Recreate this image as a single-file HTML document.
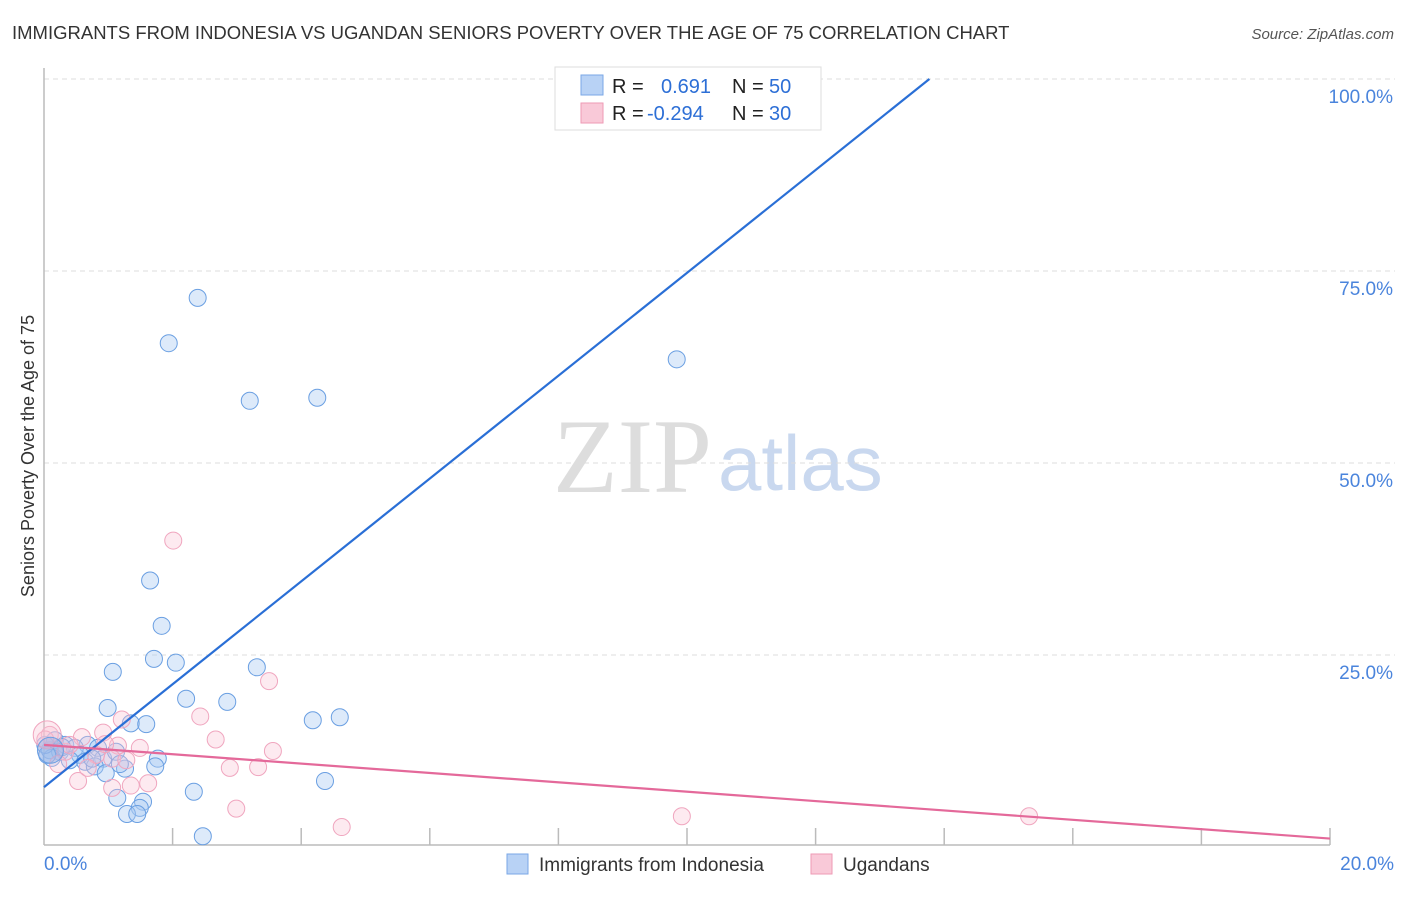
<!DOCTYPE html>
<html><head><meta charset="utf-8"><style>
body{margin:0;background:#fff;font-family:"Liberation Sans",sans-serif;}
svg text{font-family:"Liberation Sans",sans-serif;}
</style></head><body>
<svg id="chart" width="1406" height="892">
<text x="12" y="39" font-size="18.5" fill="#333">IMMIGRANTS FROM INDONESIA VS UGANDAN SENIORS POVERTY OVER THE AGE OF 75 CORRELATION CHART</text>
<text x="1394" y="39" font-size="15" fill="#555" font-style="italic" text-anchor="end">Source: ZipAtlas.com</text>
<text x="34" y="456" font-size="18" fill="#333" text-anchor="middle" transform="rotate(-90 34 456)">Seniors Poverty Over the Age of 75</text>
<text x="553" y="492" font-size="106" fill="#ddd" style="font-family:'Liberation Serif',serif">ZIP</text>
<text x="718" y="490" font-size="78" fill="#c9d8ef">atlas</text>
<g id="grid"></g><g id="pts"></g><g id="lines"></g>
<g>
<rect x="555" y="67" width="266" height="63" fill="#fff" stroke="#ddd"/>
<rect x="581" y="75" width="22" height="20" fill="#b8d2f5" stroke="#7aa7e6"/>
<rect x="581" y="103" width="22" height="20" fill="#f9c9d8" stroke="#ee9ab5"/>
<text x="612" y="93" font-size="20" fill="#222">R = </text><text x="661" y="93" font-size="20" fill="#2d6fd6">0.691</text>
<text x="732" y="93" font-size="20" fill="#222">N = </text><text x="769" y="93" font-size="20" fill="#2d6fd6">50</text>
<text x="612" y="120" font-size="20" fill="#222">R = </text><text x="647" y="120" font-size="20" fill="#2d6fd6">-0.294</text>
<text x="732" y="120" font-size="20" fill="#222">N = </text><text x="769" y="120" font-size="20" fill="#2d6fd6">30</text>
</g>
<g>
<rect x="507" y="854" width="21" height="20" fill="#b8d2f5" stroke="#7aa7e6"/>
<text x="539" y="871" font-size="19" fill="#333">Immigrants from Indonesia</text>
<rect x="811" y="854" width="21" height="20" fill="#f9c9d8" stroke="#ee9ab5"/>
<text x="843" y="871" font-size="19" fill="#333">Ugandans</text>
</g>
</svg>
<script>
const xTickLabels=["0.0%","20.0%"];
const yTicks=[25,50,75,100];
const yTickLabels=["25.0%","50.0%","75.0%","100.0%"];
const blueX=[2.39,1.94,3.20,4.25,9.84,10.95,1.65,1.83,1.71,2.05,1.07,3.31,2.21,2.85,0.99,1.35,1.59,4.18,4.60,0.17,0.33,0.68,0.09,0.25,0.48,0.84,0.56,0.40,0.12,0.92,0.64,1.12,1.77,1.73,0.79,1.26,0.96,4.37,2.33,1.14,1.54,1.49,1.29,1.45,2.47,0.28,0.02,0.75,1.18,0.05];
const blueY=[71.5,65.6,58.1,58.5,63.5,100.3,34.7,28.8,24.5,24.0,22.8,23.4,19.3,18.9,18.1,16.1,16.0,16.5,16.9,13.9,13.3,13.3,12.6,12.4,12.9,12.9,12.0,11.3,11.6,11.5,11.1,12.4,11.5,10.5,10.5,10.2,9.6,8.6,7.2,6.4,5.9,5.1,4.3,4.3,1.4,13.0,13.3,11.5,10.8,12.0];
const pinkX=[2.01,3.50,2.43,2.67,1.21,0.92,0.59,3.56,3.33,2.89,1.15,1.06,1.28,0.81,0.33,0.09,0.02,0.53,1.06,1.35,1.62,2.99,4.63,9.92,15.32,0.68,0.22,0.95,0.40,1.49];
const pinkY=[39.9,21.6,17.0,14.0,16.6,14.9,14.3,12.5,10.4,10.3,13.2,11.5,11.3,12.0,12.4,14.6,14.0,8.6,7.7,8.0,8.3,5.0,2.6,4.0,4.0,10.3,10.8,13.4,13.3,12.9];
const blueLine=[0,7.8,13.77,100];
const pinkLine=[0,13.3,20,1.1];
const X0=44,X1=1330,Y0=847,Y1=79;
const sx=v=>X0+(v/20)*(X1-X0);
const sy=v=>Y0-(v/100)*(Y0-Y1);
const NS="http://www.w3.org/2000/svg";
function mk(t,a,p){const e=document.createElementNS(NS,t);for(const k in a)e.setAttribute(k,a[k]);p.appendChild(e);return e;}
const g=document.getElementById('grid');
yTicks.forEach((v,i)=>{
 const l=mk('line',{x1:X0,x2:1395,y1:sy(v),y2:sy(v),stroke:'#ddd','stroke-dasharray':'5,4'},g);
 
 
 const t=mk('text',{x:1393,y:sy(v)+24,'font-size':19,fill:'#4a84dc','text-anchor':'end'},g);
 t.textContent=yTickLabels[i];
 
 
});
const ax=mk('line',{x1:X0,x2:X0,y1:68,y2:845,stroke:'#bbb','stroke-width':1.5},g);


const bx=mk('line',{x1:X0,x2:1330,y1:845,y2:845,stroke:'#bbb','stroke-width':1.5},g);


for(let i=1;i<=10;i++){const tk=mk('line',{x1:sx(i*2),x2:sx(i*2),y1:828,y2:845,stroke:'#bbb','stroke-width':1.5},g);
 
 }
[[0,'start',44],[1,'end',1394]].forEach(([i,a,x])=>{const t=mk('text',{x:x,y:870,'font-size':19,fill:'#4a84dc','text-anchor':a},g);t.textContent=xTickLabels[i];
 
 });
const p=document.getElementById('pts');
blueX.forEach((v,i)=>{const c=mk('circle',{cx:sx(v),cy:sy(blueY[i]),r:8.5,fill:'rgba(170,202,242,0.4)',stroke:'#6a9fe2','stroke-width':1},p);
 
 });
pinkX.forEach((v,i)=>{const c=mk('circle',{cx:sx(v),cy:sy(pinkY[i]),r:8.5,fill:'rgba(248,195,212,0.35)',stroke:'#f0a6bf','stroke-width':1},p);
 
 });
const big=mk('circle',{cx:sx(0.05),cy:sy(14.6),r:14,fill:'rgba(248,195,212,0.35)',stroke:'#f0a6bf','stroke-width':1},p);


const big2=mk('circle',{cx:sx(0.1),cy:sy(12.6),r:13,fill:'rgba(150,178,228,0.45)',stroke:'#6a9fe2','stroke-width':1},p);


const L=document.getElementById('lines');
const bl=mk('line',{x1:sx(blueLine[0]),y1:sy(blueLine[1]),x2:sx(blueLine[2]),y2:sy(blueLine[3]),stroke:'#2a6fd6','stroke-width':2.2},L);


const pl=mk('line',{x1:sx(pinkLine[0]),y1:sy(pinkLine[1]),x2:sx(pinkLine[2]),y2:sy(pinkLine[3]),stroke:'#e4699a','stroke-width':2.2},L);


</script>
</body></html>
